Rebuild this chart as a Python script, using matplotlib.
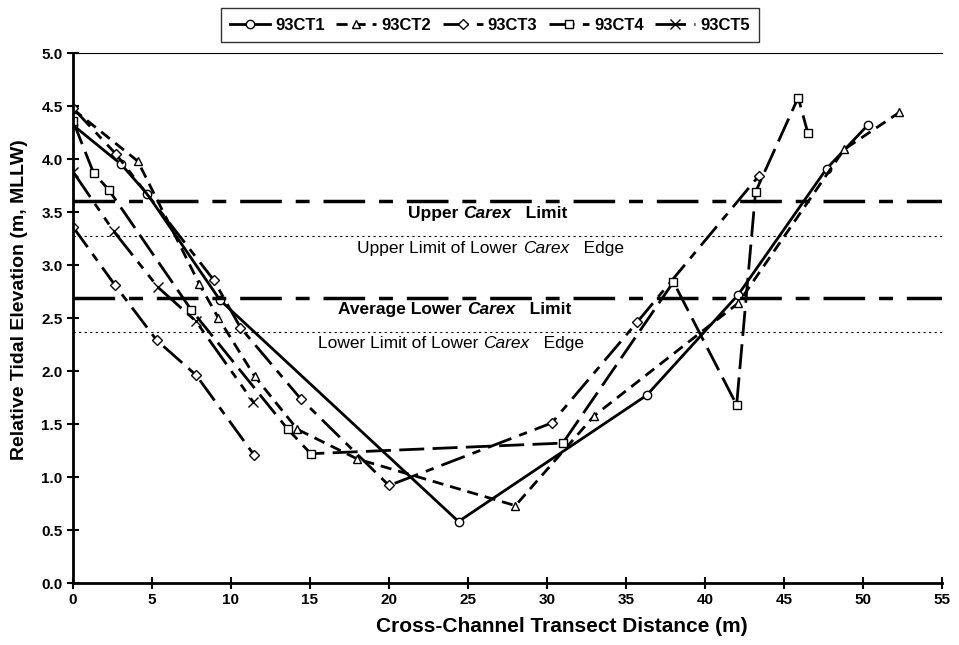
import matplotlib.pyplot as plt

plt.rcParams['font.family'] = ['Liberation Sans', 'DejaVu Sans']

# 93CT1 - solid, circles
ct1_x = [0, 3.05, 4.7, 9.3, 24.4, 36.3, 42.1, 47.7, 50.3]
ct1_y = [4.32, 3.95, 3.67, 2.67, 0.58, 1.77, 2.72, 3.91, 4.32]
# 93CT2 - dashed, triangles
ct2_x = [0, 4.1, 8.0, 9.2, 11.5, 14.2, 18.0, 28.0, 33.0, 42.1, 48.8, 52.3]
ct2_y = [4.47, 3.98, 2.82, 2.50, 1.95, 1.45, 1.17, 0.73, 1.58, 2.64, 4.09, 4.44]
# 93CT3 - dash dot, diamonds
ct3_x = [0, 2.7, 8.9, 10.6, 14.4, 20.0, 30.3, 35.7, 43.4]
ct3_y = [4.48, 4.05, 2.86, 2.41, 1.74, 0.92, 1.51, 2.46, 3.84]
# second diamond transect (same style, not in legend)
ct3b_x = [0, 2.66, 5.3, 7.8, 11.45]
ct3b_y = [3.36, 2.81, 2.29, 1.96, 1.21]
# 93CT4 - long dash, squares
ct4_x = [0, 1.3, 2.26, 7.47, 13.6, 15.05, 31.0, 38.0, 42.0, 43.2, 45.9, 46.5]
ct4_y = [4.36, 3.87, 3.71, 2.58, 1.45, 1.22, 1.32, 2.84, 1.68, 3.69, 4.58, 4.25]
# 93CT5 - long dash short dashes, x
ct5_x = [0, 2.57, 5.38, 7.78, 11.4]
ct5_y = [3.88, 3.32, 2.79, 2.47, 1.71]

upper_carex = 3.60
upper_edge = 3.27
avg_lower_carex = 2.69
lower_edge = 2.37

fig = plt.figure(figsize=(9.59, 6.45), dpi=100)
ax = fig.add_axes([0.0761, 0.0961, 0.9062, 0.8217])

mk = dict(markerfacecolor='white', markeredgecolor='black', markeredgewidth=1, color='black')
ax.plot(ct1_x, ct1_y, '-', lw=2, marker='o', ms=6, label='93CT1', **mk)
ax.plot(ct2_x, ct2_y, ls=(0, (4, 2.5)), lw=2, marker='^', ms=6, label='93CT2', **mk)
ax.plot(ct3_x, ct3_y, ls=(0, (9, 3, 3, 3)), lw=2, marker='D', ms=5, label='93CT3', **mk)
ax.plot(ct3b_x, ct3b_y, ls=(0, (9, 3, 3, 3)), lw=2, marker='D', ms=5, **mk)
ax.plot(ct4_x, ct4_y, ls=(0, (9, 3)), lw=2, marker='s', ms=6, label='93CT4', **mk)
ax.plot(ct5_x, ct5_y, ls=(0, (11, 3, 3, 3, 3, 3)), lw=2, marker='x', ms=7, label='93CT5', **mk)

ax.axhline(upper_carex, color='black', lw=2.5, ls=(0, (12, 4, 4, 4)))
ax.axhline(avg_lower_carex, color='black', lw=2.5, ls=(0, (12, 4, 4, 4)))
ax.axhline(upper_edge, color='black', lw=0.8, ls=(0, (2, 3)))
ax.axhline(lower_edge, color='black', lw=0.8, ls=(0, (2, 3)))


def label(x, y, parts):
    # parts: list of (text, weight, style), chained left to right
    prev = None
    for txt, w, s in parts:
        if prev is None:
            prev = ax.text(x, y, txt, fontsize=12.5, fontweight=w, fontstyle=s,
                           ha='left', va='top')
        else:
            prev = ax.annotate(txt, xy=(1, 0), xycoords=prev, va='bottom', ha='left',
                               fontsize=12.5, fontweight=w, fontstyle=s)


label(21.2, upper_carex - 0.04, [('Upper ', 'bold', 'normal'), ('Carex', 'bold', 'italic'),
                                  ('   Limit', 'bold', 'normal')])
label(18.0, upper_edge - 0.04, [('Upper Limit of Lower ', 'normal', 'normal'),
                                 ('Carex', 'normal', 'italic'), ('   Edge', 'normal', 'normal')])
label(16.8, avg_lower_carex - 0.04, [('Average Lower ', 'bold', 'normal'), ('Carex', 'bold', 'italic'),
                                      ('   Limit', 'bold', 'normal')])
label(15.5, lower_edge - 0.04, [('Lower Limit of Lower ', 'normal', 'normal'),
                                 ('Carex', 'normal', 'italic'), ('   Edge', 'normal', 'normal')])

ax.set_xlim(0, 55)
ax.set_ylim(0, 5)
ax.set_xticks(range(0, 56, 5))
ax.set_yticks([i * 0.5 for i in range(11)])
ax.set_yticklabels(['%.1f' % (i * 0.5) for i in range(11)])
ax.tick_params(direction='inout', length=8, width=1.5, labelsize=11)
for t in ax.get_xticklabels() + ax.get_yticklabels():
    t.set_fontweight('bold')
ax.spines['left'].set_linewidth(2)
ax.spines['bottom'].set_linewidth(2)
ax.spines['top'].set_linewidth(0.8)
ax.spines['right'].set_visible(False)
ax.set_xlabel('Cross-Channel Transect Distance (m)', fontsize=15, fontweight='bold')
ax.xaxis.set_label_coords(0.563, -0.065)
ax.set_ylabel('Relative Tidal Elevation (m, MLLW)', fontsize=14, fontweight='bold')
ax.yaxis.set_label_coords(-0.052, 0.535)

leg = fig.legend(loc='upper center', bbox_to_anchor=(0.511, 1.0), ncol=5, frameon=True,
                 fancybox=False, edgecolor='black', handlelength=2.4, columnspacing=0.7,
                 handletextpad=0.3, prop={'weight': 'bold', 'size': 12}, borderpad=0.55)
leg.get_frame().set_linewidth(1)

fig.savefig('out.png', dpi=100)
